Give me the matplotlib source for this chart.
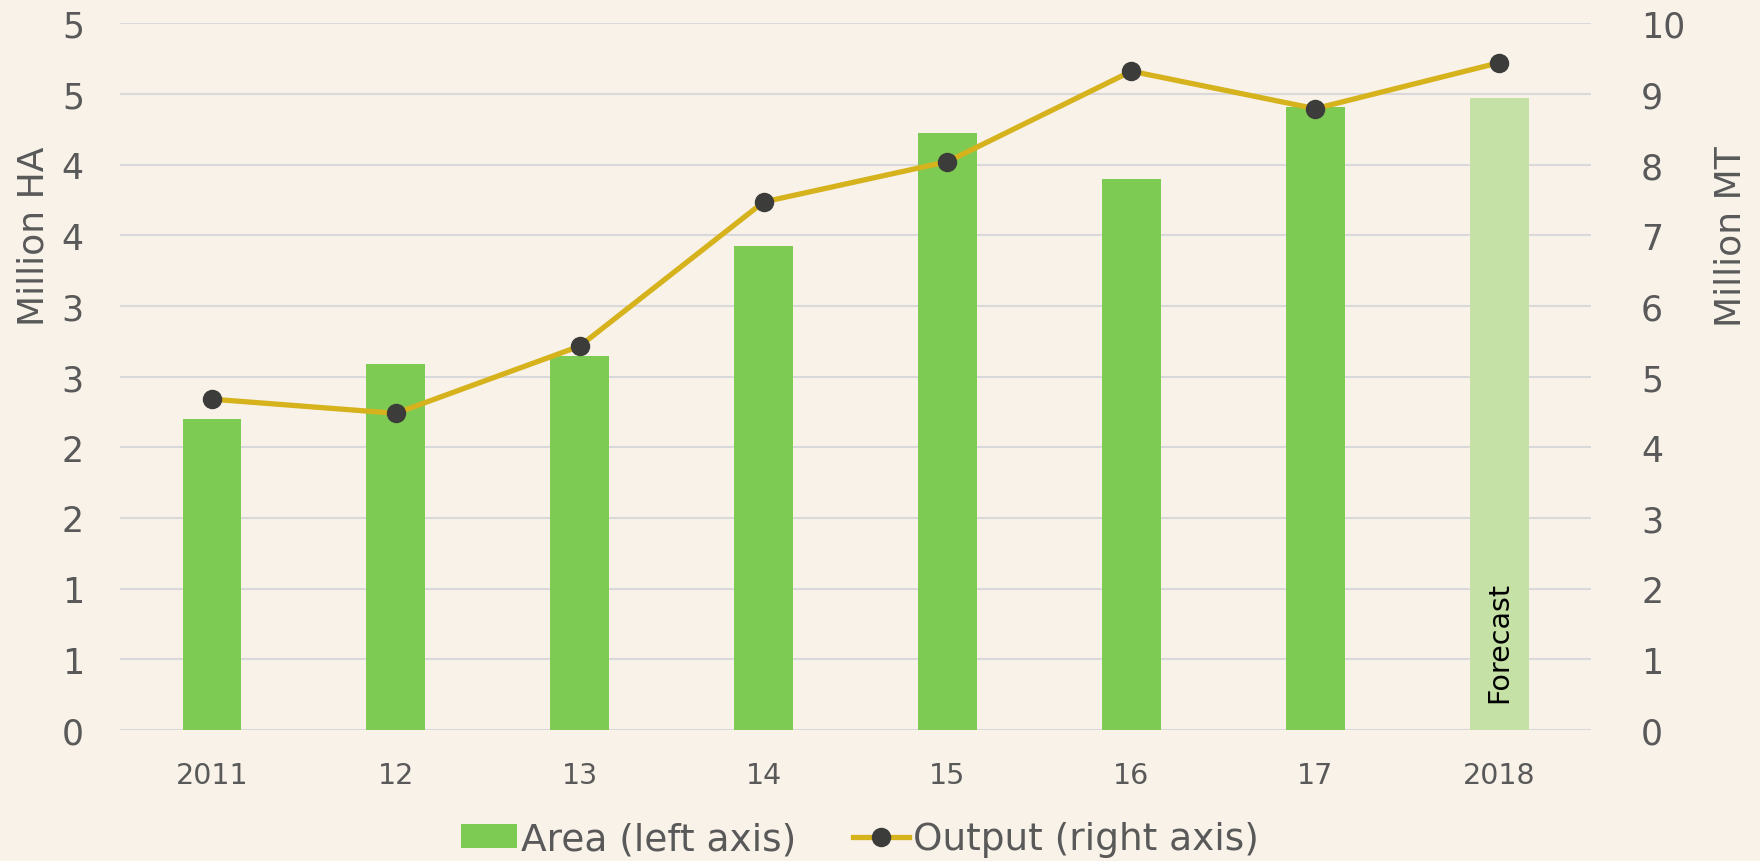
import matplotlib
matplotlib.use("Agg")
import matplotlib.pyplot as plt
import numpy as np
from matplotlib.ticker import FixedLocator, FuncFormatter

years = ["2011", "12", "13", "14", "15", "16", "17", "2018"]
area = [2.20, 2.59, 2.645, 3.42, 4.22, 3.90, 4.41, 4.47]      # million HA
output = [4.68, 4.48, 5.43, 7.47, 8.04, 9.32, 8.79, 9.44]    # million MT
is_forecast = [False] * 7 + [True]

bg = "#F8F2E9"
text_col = "#595959"
bar_col = "#7ECB54"
fc_col = "#C5E1A5"
line_col = "#D6B21C"
dot_col = "#3C3C3A"

plt.rcParams['font.family'] = ['DejaVu Sans']

fig = plt.figure(figsize=(17.6, 8.62), dpi=100, facecolor=bg)
ax = fig.add_axes([0.0682, 0.152, 0.904 - 0.0682, 0.972 - 0.152])
ax.set_facecolor(bg)
x = np.arange(len(years))

colors = [fc_col if f else bar_col for f in is_forecast]
bars = ax.bar(x, area, width=0.32, color=colors, zorder=2)

ax.set_xlim(-0.5, len(years) - 0.5)
ax.set_ylim(0, 5)
ax.yaxis.set_major_locator(FixedLocator(np.arange(0, 5.01, 0.5)))
ax.yaxis.set_major_formatter(FuncFormatter(lambda v, p: f"{int(np.floor(v + 0.5))}"))
ax.set_xticks(x)
ax.set_xticklabels(years)
ax.grid(axis='y', color="#D9D9D9", linewidth=1.5, zorder=0)
ax.set_axisbelow(True)
for s in ax.spines.values():
    s.set_visible(False)
ax.tick_params(axis='y', length=0, labelsize=25, labelcolor=text_col, pad=26)
ax.tick_params(axis='x', length=0, labelsize=20.5, labelcolor=text_col, pad=22)
ax.set_ylabel("Million HA", fontsize=26, color=text_col, labelpad=8, y=0.70)

ax2 = ax.twinx()
ax2.patch.set_visible(False)
ax2.set_ylim(0, 10)
ax2.set_yticks(np.arange(0, 11, 1))
for s in ax2.spines.values():
    s.set_visible(False)
ax2.tick_params(axis='y', length=0, labelsize=25, labelcolor=text_col, pad=36)
ax2.set_ylabel("Million MT", fontsize=26, color=text_col, labelpad=20, y=0.70)
line, = ax2.plot(x, output, color=line_col, linewidth=3.8, marker='o',
                 markersize=13, markerfacecolor=dot_col, markeredgecolor=dot_col,
                 zorder=3)

fb = bars[-1]
ax.text(fb.get_x() + fb.get_width() / 2, 0.2, "Forecast", rotation=90,
        ha='center', va='bottom', fontsize=20.5, color='black', zorder=4)

leg = fig.legend([bars[0], line], ["Area (left axis)", "Output (right axis)"],
                 loc='center', bbox_to_anchor=(0.4886, 0.025), ncol=2, frameon=False,
                 fontsize=27, handlelength=1.5, handleheight=0.6,
                 handletextpad=0.1, columnspacing=1.5)
for t in leg.get_texts():
    t.set_color(text_col)

fig.savefig("out.png", dpi=100, facecolor=bg)
